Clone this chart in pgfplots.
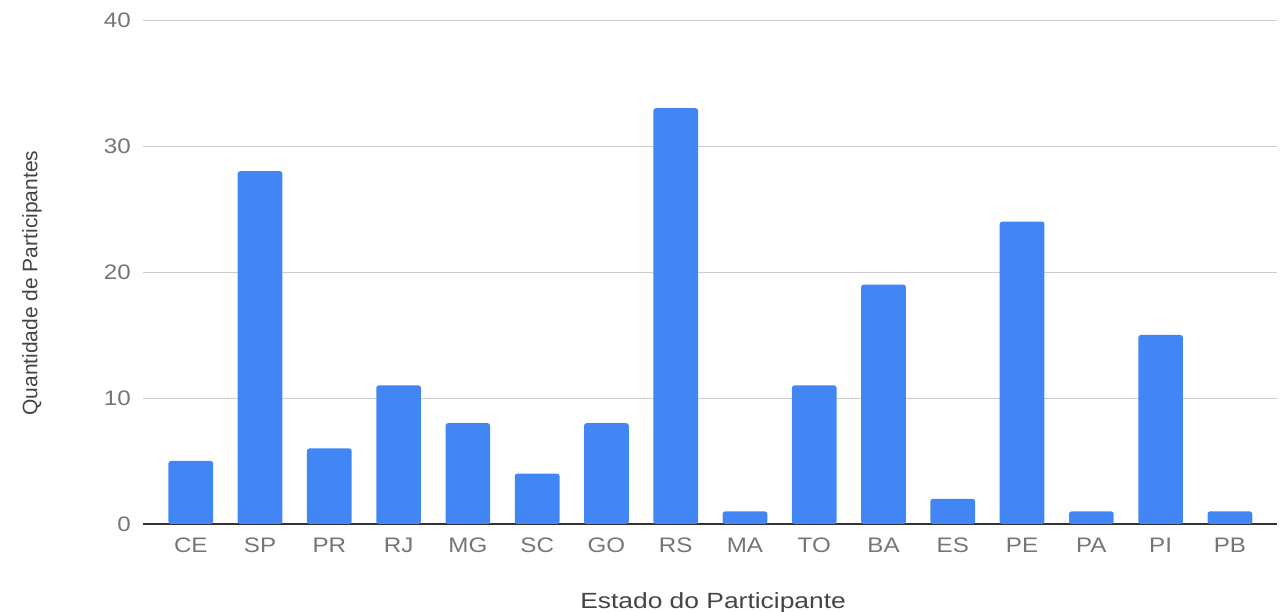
\documentclass[border=0pt]{standalone}
\usepackage{fontspec}
\setmainfont{Liberation Sans}
\newfontfamily\tickfont[FakeStretch=1.15]{Liberation Sans}
\newfontfamily\labfont[FakeStretch=1.2]{Liberation Sans}
\usepackage{pgfplots}
\pgfplotsset{compat=1.18}
\definecolor{barblue}{HTML}{4285F4}
\definecolor{tickgray}{HTML}{757575}
\definecolor{labgray}{HTML}{444444}
\definecolor{gridgray}{HTML}{CCCCCC}
\definecolor{basegray}{HTML}{333333}
\begin{document}
\begin{tikzpicture}
\useasboundingbox (-143pt,-88pt) rectangle (1144pt,524pt);
\begin{axis}[
  scale only axis,
  width=1134pt, height=504pt,
  xmin=-0.69, xmax=15.68,
  ymin=0, ymax=40,
  ytick={0,10,20,30,40},
  xtick={0,...,15},
  xticklabels={CE,SP,PR,RJ,MG,SC,GO,RS,MA,TO,BA,ES,PE,PA,PI,PB},
  /pgf/number format/assume math mode=true,
  axis line style={draw=none},
  major tick length=0pt,
  ymajorgrids,
  grid style={draw=gridgray, line width=0.9pt},
  extra y ticks={0},
  extra y tick labels={},
  extra y tick style={grid style={draw=basegray, line width=1.3pt}},
  yticklabel style={font=\tickfont\fontsize{21}{24}\selectfont, text=tickgray, anchor=east, inner sep=0pt, xshift=-12pt},
  xticklabel style={font=\tickfont\fontsize{21}{24}\selectfont, text=tickgray, anchor=base, inner sep=0pt, yshift=-29pt},
  xlabel={Estado do Participante},
  ylabel={Quantidade de Participantes},
  xlabel style={font=\labfont\fontsize{22}{26}\selectfont, text=labgray, at={(axis description cs:0.5027,-0.1667)}, anchor=base, inner sep=0pt},
  ylabel style={font=\fontsize{21}{24}\selectfont, text=labgray, at={(axis description cs:-0.0979,0.478)}, anchor=center, inner sep=0pt},
  ybar, bar width=44.7pt,
  axis on top=false,
]
\addplot[fill=barblue, draw=none, rounded corners=2.5pt] coordinates {
(0,5) (1,28) (2,6) (3,11) (4,8) (5,4) (6,8) (7,33)
(8,1) (9,11) (10,19) (11,2) (12,24) (13,1) (14,15) (15,1)
};
\end{axis}
\end{tikzpicture}
\end{document}
